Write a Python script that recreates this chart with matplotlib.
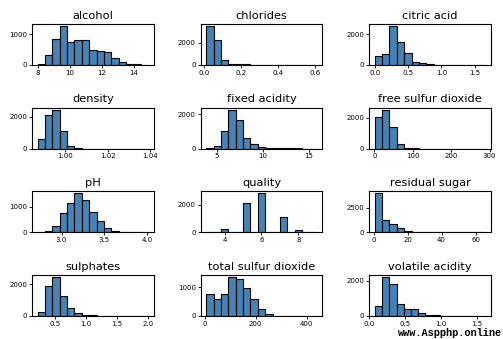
import numpy as np
import matplotlib
matplotlib.use("Agg")
import matplotlib.pyplot as plt
from matplotlib.ticker import MaxNLocator

# Wine quality (red + white) feature histograms, 15 equal-width bins per column
columns = ["alcohol", "chlorides", "citric acid",
           "density", "fixed acidity", "free sulfur dioxide",
           "pH", "quality", "residual sugar",
           "sulphates", "total sulfur dioxide", "volatile acidity"]

# data range (min, max) of each column
range_alcohol = (8.0, 14.9)
range_chlorides = (0.009, 0.611)
range_citric_acid = (0.0, 1.66)
range_density = (0.98711, 1.03898)
range_fixed_acidity = (3.8, 15.9)
range_free_sulfur = (1.0, 289.0)
range_ph = (2.72, 4.01)
range_quality = (3.0, 9.0)
range_residual_sugar = (0.6, 65.8)
range_sulphates = (0.22, 2.0)
range_total_sulfur = (6.0, 440.0)
range_volatile_acidity = (0.08, 1.58)

# counts per bin
counts_alcohol = [30, 315, 837, 1272, 739, 804, 804, 489, 456, 413, 217, 87, 22, 20, 2]
counts_chlorides = [3550, 2242, 424, 90, 80, 50, 20, 12, 8, 6, 5, 4, 3, 2, 1]
counts_citric_acid = [587, 717, 2547, 1500, 783, 196, 130, 65, 12, 6, 3, 2, 1, 0, 1]
counts_density = [580, 2108, 2460, 1140, 180, 25, 2, 0, 0, 0, 0, 0, 0, 0, 2]
counts_fixed_acidity = [12, 158, 1010, 2250, 1643, 634, 277, 119, 59, 40, 20, 10, 6, 3, 2]
counts_free_sulfur = [2044, 2518, 1378, 311, 28, 8, 3, 2, 1, 0, 0, 0, 0, 0, 1]
counts_ph = [5, 53, 263, 737, 1132, 1516, 1250, 776, 421, 184, 66, 26, 10, 3, 2]
counts_quality = [30, 0, 216, 0, 0, 2138, 0, 2836, 0, 0, 1079, 0, 193, 0, 5]
counts_residual_sugar = [3930, 1284, 811, 473, 90, 12, 4, 0, 0, 0, 0, 0, 0, 0, 1]
counts_sulphates = [227, 1918, 2470, 1278, 536, 186, 62, 40, 20, 10, 6, 3, 2, 1, 2]
counts_total_sulfur = [756, 593, 756, 1350, 1279, 965, 593, 244, 58, 12, 2, 1, 0, 0, 1]
counts_volatile_acidity = [552, 2200, 1810, 667, 381, 381, 152, 40, 35, 20, 5, 5, 3, 2, 1]

ranges = [range_alcohol, range_chlorides, range_citric_acid,
          range_density, range_fixed_acidity, range_free_sulfur,
          range_ph, range_quality, range_residual_sugar,
          range_sulphates, range_total_sulfur, range_volatile_acidity]
counts = [counts_alcohol, counts_chlorides, counts_citric_acid,
          counts_density, counts_fixed_acidity, counts_free_sulfur,
          counts_ph, counts_quality, counts_residual_sugar,
          counts_sulphates, counts_total_sulfur, counts_volatile_acidity]

nice_steps = [1, 2, 2.5, 5, 10]

fig, axes = plt.subplots(4, 3, figsize=(5.03, 3.39), dpi=100)
fig.subplots_adjust(left=0.0636, right=0.976, top=0.929, bottom=0.068,
                    wspace=0.385, hspace=1.05)

for ax, name, (lo, hi), cnt in zip(axes.flat, columns, ranges, counts):
    edges = np.linspace(lo, hi, len(cnt) + 1)
    centers = (edges[:-1] + edges[1:]) / 2
    ax.hist(centers, bins=edges, weights=cnt, color="steelblue",
            edgecolor="black", linewidth=0.8)
    ax.set_title(name, fontsize=8.2, pad=4)
    ax.xaxis.set_major_locator(MaxNLocator(nbins=4, steps=nice_steps))
    ax.yaxis.set_major_locator(MaxNLocator(nbins=2, steps=nice_steps))
    ax.tick_params(labelsize=5, length=2, width=0.6, pad=1.5)
    ax.grid(False)

# let the volatile acidity axis start at zero so its 0.0 tick shows
axes[3, 2].set_xlim(-0.002, 1.69)

fig.text(0.999, 0.003, "www.Aspphp.online", ha="right", va="bottom",
         fontsize=7.4, family="Liberation Mono", fontweight="bold")

fig.savefig("out.png", dpi=100)
